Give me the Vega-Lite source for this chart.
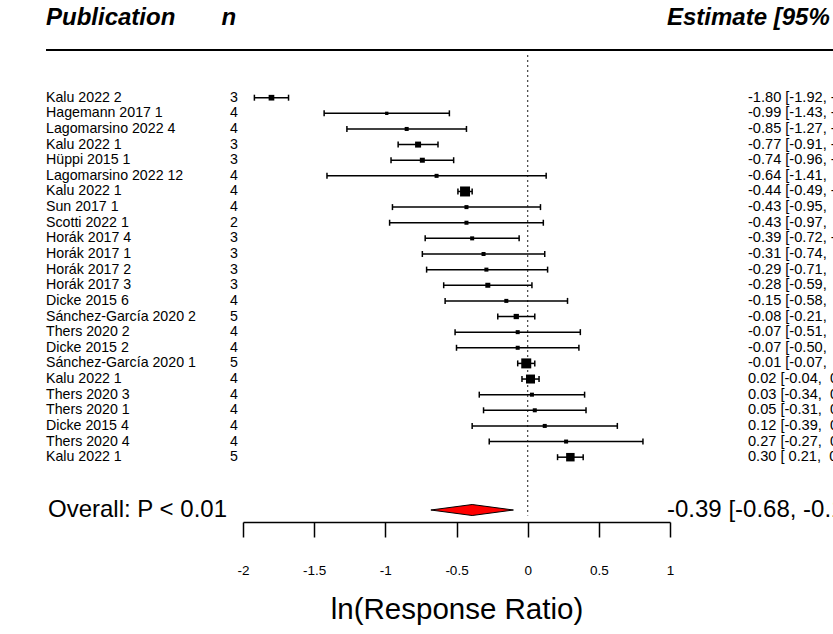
{
  "$schema": "https://vega.github.io/schema/vega-lite/v6.json",
  "width": 427,
  "height": 522,
  "autosize": {"type": "none"},
  "padding": {"left": 243, "right": 163, "top": 0, "bottom": 112},
  "background": "white",
  "config": {"view": {"stroke": null}, "text": {"font": "Liberation Sans", "color": "black"}},
  "resolve": {"axis": {"x": "independent", "y": "independent"}},
  "datasets": {
    "studies": [
      {"order": 1, "study": "Kalu 2022 2", "n": 3, "est": -1.80, "lo": -1.92, "hi": -1.68, "w": 4.4, "ci": "-1.80 [-1.92, -1.68]"},
      {"order": 2, "study": "Hagemann 2017 1", "n": 4, "est": -0.99, "lo": -1.43, "hi": -0.55, "w": 1.5, "ci": "-0.99 [-1.43, -0.55]"},
      {"order": 3, "study": "Lagomarsino 2022 4", "n": 4, "est": -0.85, "lo": -1.27, "hi": -0.43, "w": 2.2, "ci": "-0.85 [-1.27, -0.43]"},
      {"order": 4, "study": "Kalu 2022 1", "n": 3, "est": -0.77, "lo": -0.91, "hi": -0.63, "w": 4.9, "ci": "-0.77 [-0.91, -0.63]"},
      {"order": 5, "study": "Hüppi 2015 1", "n": 3, "est": -0.74, "lo": -0.96, "hi": -0.52, "w": 3.4, "ci": "-0.74 [-0.96, -0.52]"},
      {"order": 6, "study": "Lagomarsino 2022 12", "n": 4, "est": -0.64, "lo": -1.41, "hi": 0.13, "w": 2.2, "ci": "-0.64 [-1.41,\u00a0\u00a00.13]"},
      {"order": 7, "study": "Kalu 2022 1", "n": 4, "est": -0.44, "lo": -0.49, "hi": -0.39, "w": 13.6, "ci": "-0.44 [-0.49, -0.39]"},
      {"order": 8, "study": "Sun 2017 1", "n": 4, "est": -0.43, "lo": -0.95, "hi": 0.09, "w": 2.2, "ci": "-0.43 [-0.95,\u00a0\u00a00.09]"},
      {"order": 9, "study": "Scotti 2022 1", "n": 2, "est": -0.43, "lo": -0.97, "hi": 0.11, "w": 2.2, "ci": "-0.43 [-0.97,\u00a0\u00a00.11]"},
      {"order": 10, "study": "Horák 2017 4", "n": 3, "est": -0.39, "lo": -0.72, "hi": -0.06, "w": 2.2, "ci": "-0.39 [-0.72, -0.06]"},
      {"order": 11, "study": "Horák 2017 1", "n": 3, "est": -0.31, "lo": -0.74, "hi": 0.12, "w": 2.2, "ci": "-0.31 [-0.74,\u00a0\u00a00.12]"},
      {"order": 12, "study": "Horák 2017 2", "n": 3, "est": -0.29, "lo": -0.71, "hi": 0.14, "w": 2.2, "ci": "-0.29 [-0.71,\u00a0\u00a00.14]"},
      {"order": 13, "study": "Horák 2017 3", "n": 3, "est": -0.28, "lo": -0.59, "hi": 0.03, "w": 3.4, "ci": "-0.28 [-0.59,\u00a0\u00a00.03]"},
      {"order": 14, "study": "Dicke 2015 6", "n": 4, "est": -0.15, "lo": -0.58, "hi": 0.28, "w": 2.2, "ci": "-0.15 [-0.58,\u00a0\u00a00.28]"},
      {"order": 15, "study": "Sánchez-García 2020 2", "n": 5, "est": -0.08, "lo": -0.21, "hi": 0.05, "w": 3.8, "ci": "-0.08 [-0.21,\u00a0\u00a00.05]"},
      {"order": 16, "study": "Thers 2020 2", "n": 4, "est": -0.07, "lo": -0.51, "hi": 0.37, "w": 2.2, "ci": "-0.07 [-0.51,\u00a0\u00a00.37]"},
      {"order": 17, "study": "Dicke 2015 2", "n": 4, "est": -0.07, "lo": -0.50, "hi": 0.36, "w": 2.2, "ci": "-0.07 [-0.50,\u00a0\u00a00.36]"},
      {"order": 18, "study": "Sánchez-García 2020 1", "n": 5, "est": -0.01, "lo": -0.07, "hi": 0.05, "w": 13.6, "ci": "-0.01 [-0.07,\u00a0\u00a00.05]"},
      {"order": 19, "study": "Kalu 2022 1", "n": 4, "est": 0.02, "lo": -0.04, "hi": 0.08, "w": 11.0, "ci": "\u00a0\u00a00.02 [-0.04,\u00a0\u00a00.08]"},
      {"order": 20, "study": "Thers 2020 3", "n": 4, "est": 0.03, "lo": -0.34, "hi": 0.40, "w": 2.2, "ci": "\u00a0\u00a00.03 [-0.34,\u00a0\u00a00.40]"},
      {"order": 21, "study": "Thers 2020 1", "n": 4, "est": 0.05, "lo": -0.31, "hi": 0.41, "w": 2.2, "ci": "\u00a0\u00a00.05 [-0.31,\u00a0\u00a00.41]"},
      {"order": 22, "study": "Dicke 2015 4", "n": 4, "est": 0.12, "lo": -0.39, "hi": 0.63, "w": 2.2, "ci": "\u00a0\u00a00.12 [-0.39,\u00a0\u00a00.63]"},
      {"order": 23, "study": "Thers 2020 4", "n": 4, "est": 0.27, "lo": -0.27, "hi": 0.81, "w": 2.2, "ci": "\u00a0\u00a00.27 [-0.27,\u00a0\u00a00.81]"},
      {"order": 24, "study": "Kalu 2022 1", "n": 5, "est": 0.30, "lo": 0.21, "hi": 0.39, "w": 9.8, "ci": "\u00a0\u00a00.30 [ 0.21,\u00a0\u00a00.39]"}
    ],
    "overall": [
      {"label": "Overall: P < 0.01", "est": -0.39, "lo": -0.68, "hi": -0.10, "ci": "-0.39 [-0.68, -0.10]"}
    ]
  },
  "layer": [
    {
      "data": {"name": "overall"},
      "mark": {"type": "rule", "strokeDash": [2, 3], "strokeWidth": 1.2, "color": "#444444"},
      "encoding": {
        "x": {"datum": 0, "type": "quantitative", "scale": {"domain": [-2, 1], "nice": false, "zero": false}, "axis": null},
        "y": {"datum": -1.73, "type": "quantitative", "scale": {"domain": [-5.251, 28.147], "reverse": true, "nice": false, "zero": false}, "axis": null},
        "y2": {"datum": 27.73}
      }
    },
    {
      "data": {"name": "overall"},
      "mark": {"type": "rule", "strokeWidth": 2, "color": "black"},
      "encoding": {
        "x": {"datum": -3.384, "type": "quantitative", "scale": {"domain": [-2, 1], "nice": false, "zero": false}, "axis": null},
        "x2": {"datum": 3.2},
        "y": {"datum": -2.052, "type": "quantitative", "scale": {"domain": [-5.251, 28.147], "reverse": true, "nice": false, "zero": false}, "axis": null}
      }
    },
    {
      "data": {"name": "studies"},
      "mark": {"type": "rule", "strokeWidth": 1.5, "color": "black"},
      "encoding": {
        "x": {"field": "lo", "type": "quantitative", "scale": {"domain": [-2, 1], "nice": false, "zero": false},
          "axis": {"orient": "bottom", "values": [-2, -1.5, -1, -0.5, 0, 0.5, 1], "title": "ln(Response Ratio)", "grid": false,
            "domain": true, "ticks": true, "labels": true,
            "domainColor": "black", "domainWidth": 1.5, "tickColor": "black", "tickWidth": 1.5, "tickSize": 15,
            "labelFont": "Liberation Sans", "labelFontSize": 13.5, "labelColor": "black", "labelPadding": 26,
            "labelExpr": "'' + datum.value", "labelFlush": false, "labelOverlap": false,
            "titleFont": "Liberation Sans", "titleFontSize": 29.5, "titleFontWeight": "normal", "titleColor": "black",
            "titleY": 87, "titleBaseline": "middle"}},
        "x2": {"field": "hi"},
        "y": {"field": "order", "type": "quantitative", "scale": {"domain": [-5.251, 28.147], "reverse": true, "nice": false, "zero": false}, "axis": null}
      }
    },
    {
      "data": {"name": "studies"},
      "mark": {"type": "tick", "orient": "vertical", "size": 6, "thickness": 1.5, "color": "black", "opacity": 1},
      "encoding": {
        "x": {"field": "lo", "type": "quantitative", "scale": {"domain": [-2, 1], "nice": false, "zero": false}, "axis": null},
        "y": {"field": "order", "type": "quantitative", "scale": {"domain": [-5.251, 28.147], "reverse": true, "nice": false, "zero": false}, "axis": null}
      }
    },
    {
      "data": {"name": "studies"},
      "mark": {"type": "tick", "orient": "vertical", "size": 6, "thickness": 1.5, "color": "black", "opacity": 1},
      "encoding": {
        "x": {"field": "hi", "type": "quantitative", "scale": {"domain": [-2, 1], "nice": false, "zero": false}, "axis": null},
        "y": {"field": "order", "type": "quantitative", "scale": {"domain": [-5.251, 28.147], "reverse": true, "nice": false, "zero": false}, "axis": null}
      }
    },
    {
      "data": {"name": "studies"},
      "mark": {"type": "square", "color": "black", "opacity": 1, "filled": true},
      "encoding": {
        "x": {"field": "est", "type": "quantitative", "scale": {"domain": [-2, 1], "nice": false, "zero": false}, "axis": null},
        "y": {"field": "order", "type": "quantitative", "scale": {"domain": [-5.251, 28.147], "reverse": true, "nice": false, "zero": false}, "axis": null},
        "size": {"field": "w", "type": "quantitative", "scale": {"type": "linear", "domain": [0, 100], "range": [0, 734], "zero": true, "nice": false}, "legend": null}
      }
    },
    {
      "data": {"name": "studies"},
      "mark": {"type": "text", "align": "left", "baseline": "middle", "fontSize": 14.2, "font": "Liberation Sans", "color": "black"},
      "encoding": {
        "x": {"datum": -3.384, "type": "quantitative", "scale": {"domain": [-2, 1], "nice": false, "zero": false}, "axis": null},
        "y": {"field": "order", "type": "quantitative", "scale": {"domain": [-5.251, 28.147], "reverse": true, "nice": false, "zero": false}, "axis": null},
        "text": {"field": "study"}
      }
    },
    {
      "data": {"name": "studies"},
      "mark": {"type": "text", "align": "center", "baseline": "middle", "fontSize": 14.2, "font": "Liberation Sans", "color": "black"},
      "encoding": {
        "x": {"datum": -2.063, "type": "quantitative", "scale": {"domain": [-2, 1], "nice": false, "zero": false}, "axis": null},
        "y": {"field": "order", "type": "quantitative", "scale": {"domain": [-5.251, 28.147], "reverse": true, "nice": false, "zero": false}, "axis": null},
        "text": {"field": "n"}
      }
    },
    {
      "data": {"name": "studies"},
      "mark": {"type": "text", "align": "left", "baseline": "middle", "fontSize": 14.6, "font": "Liberation Sans", "color": "black"},
      "encoding": {
        "x": {"datum": 1.548, "type": "quantitative", "scale": {"domain": [-2, 1], "nice": false, "zero": false}, "axis": null},
        "y": {"field": "order", "type": "quantitative", "scale": {"domain": [-5.251, 28.147], "reverse": true, "nice": false, "zero": false}, "axis": null},
        "text": {"field": "ci"}
      }
    },
    {
      "data": {"name": "overall"},
      "mark": {"type": "point", "shape": "M-1,0L0,-0.133L1,0L0,0.133Z", "size": 6815, "filled": true, "fill": "#ff0000", "stroke": "black", "strokeWidth": 1, "opacity": 1, "fillOpacity": 1},
      "encoding": {
        "x": {"field": "est", "type": "quantitative", "scale": {"domain": [-2, 1], "nice": false, "zero": false}, "axis": null},
        "y": {"datum": 27.38, "type": "quantitative", "scale": {"domain": [-5.251, 28.147], "reverse": true, "nice": false, "zero": false}, "axis": null}
      }
    },
    {
      "data": {"name": "overall"},
      "mark": {"type": "text", "align": "left", "baseline": "middle", "fontSize": 24, "font": "Liberation Sans", "color": "black"},
      "encoding": {
        "x": {"datum": -3.37, "type": "quantitative", "scale": {"domain": [-2, 1], "nice": false, "zero": false}, "axis": null},
        "y": {"datum": 27.38, "type": "quantitative", "scale": {"domain": [-5.251, 28.147], "reverse": true, "nice": false, "zero": false}, "axis": null},
        "text": {"field": "label"}
      }
    },
    {
      "data": {"name": "overall"},
      "mark": {"type": "text", "align": "left", "baseline": "middle", "fontSize": 24, "font": "Liberation Sans", "color": "black"},
      "encoding": {
        "x": {"datum": 0.979, "type": "quantitative", "scale": {"domain": [-2, 1], "nice": false, "zero": false}, "axis": null},
        "y": {"datum": 27.38, "type": "quantitative", "scale": {"domain": [-5.251, 28.147], "reverse": true, "nice": false, "zero": false}, "axis": null},
        "text": {"field": "ci"}
      }
    },
    {
      "data": {"name": "overall"},
      "mark": {"type": "text", "text": "Publication", "align": "left", "baseline": "middle", "fontSize": 24, "fontStyle": "italic", "fontWeight": "bold", "font": "Liberation Sans", "color": "black"},
      "encoding": {
        "x": {"datum": -3.384, "type": "quantitative", "scale": {"domain": [-2, 1], "nice": false, "zero": false}, "axis": null},
        "y": {"datum": -4.099, "type": "quantitative", "scale": {"domain": [-5.251, 28.147], "reverse": true, "nice": false, "zero": false}, "axis": null}
      }
    },
    {
      "data": {"name": "overall"},
      "mark": {"type": "text", "text": "n", "align": "center", "baseline": "middle", "fontSize": 24, "fontStyle": "italic", "fontWeight": "bold", "font": "Liberation Sans", "color": "black"},
      "encoding": {
        "x": {"datum": -2.1, "type": "quantitative", "scale": {"domain": [-2, 1], "nice": false, "zero": false}, "axis": null},
        "y": {"datum": -4.099, "type": "quantitative", "scale": {"domain": [-5.251, 28.147], "reverse": true, "nice": false, "zero": false}, "axis": null}
      }
    },
    {
      "data": {"name": "overall"},
      "mark": {"type": "text", "text": "Estimate [95% CI]", "align": "left", "baseline": "middle", "fontSize": 24, "fontStyle": "italic", "fontWeight": "bold", "font": "Liberation Sans", "color": "black"},
      "encoding": {
        "x": {"datum": 0.979, "type": "quantitative", "scale": {"domain": [-2, 1], "nice": false, "zero": false}, "axis": null},
        "y": {"datum": -4.099, "type": "quantitative", "scale": {"domain": [-5.251, 28.147], "reverse": true, "nice": false, "zero": false}, "axis": null}
      }
    }
  ]
}
